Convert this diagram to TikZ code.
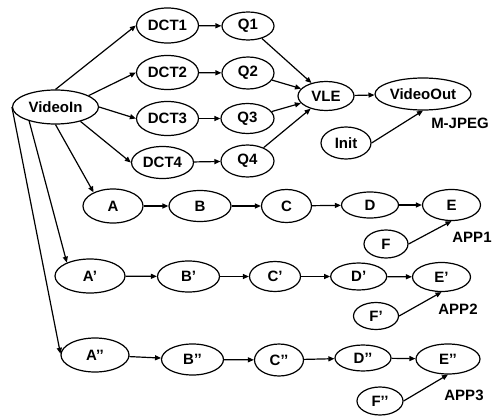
\documentclass[tikz,border=0pt]{standalone}
\usepackage{fontspec}
\setmainfont{Liberation Sans}
\usetikzlibrary{arrows.meta,shapes.geometric}
\tikzset{
  el/.style 2 args={ellipse, draw, line width=1.2pt, inner sep=0pt,
    minimum width=#1pt, minimum height=#2pt,
    font=\fontsize{15}{18}\selectfont\bfseries},
  lbl/.style={inner sep=0pt, font=\fontsize{15}{18}\selectfont\bfseries},
  arr/.style={line width=1.2pt, -{Triangle[length=6pt,width=5pt]}, shorten >=0pt}
}
\begin{document}
\begin{tikzpicture}[x=1pt,y=-1pt]
\useasboundingbox (0,0) rectangle (498,420);
% top part
\node[el={86}{34}] (vin) at (55.5,107) {VideoIn};
\node[el={62}{35}] (dct1) at (167.5,25.5) {DCT1};
\node[el={62}{34}] (dct2) at (167.5,72.5) {DCT2};
\node[el={62}{34}] (dct3) at (167.5,118.5) {DCT3};
\node[el={62}{32}] (dct4) at (162.5,162.5) {DCT4};
\node[el={52}{28}] (q1) at (248,26) {Q1};
\node[el={52}{32}] (q2) at (248,73) {Q2};
\node[el={53}{30}] (q3) at (247.5,118.5) {Q3};
\node[el={53}{32}] (q4) at (247.5,161) {Q4};
\node[el={56}{29}] (vle) at (326,96) {VLE};
\node[el={96}{32}] (vout) at (423,94) {VideoOut};
\node[el={50}{32}] (init) at (346,143) {Init};
\node[lbl] (mjpeg) at (460,123) {M-JPEG};
% APP1
\node[el={60}{34}] (a1) at (113,206) {A};
\node[el={62}{31}] (b1) at (200,206) {B};
\node[el={50}{33}] (c1) at (286.5,206) {C};
\node[el={57}{26}] (d1) at (370,205) {D};
\node[el={58}{31}] (e1) at (451.5,205) {E};
\node[el={44}{28}] (f1) at (386,244) {F};
\node[lbl] (app1) at (472,237) {APP1};
% APP2
\node[el={70}{34}] (a2) at (90,276) {A’};
\node[el={62}{31}] (b2) at (188.5,276.5) {B’};
\node[el={51}{30}] (c2) at (275,276.5) {C’};
\node[el={56}{27}] (d2) at (358.7,276.5) {D’};
\node[el={58}{29}] (e2) at (441.5,277) {E’};
\node[el={45}{27}] (f2) at (376,316) {F’};
\node[lbl] (app2) at (458,309) {APP2};
% APP3
\node[el={68}{34}] (a3) at (95,355) {A’’};
\node[el={62}{31}] (b3) at (192.5,359.5) {B’’};
\node[el={49}{32}] (c3) at (279,360) {C’’};
\node[el={56}{26}] (d3) at (363,358) {D’’};
\node[el={64}{30}] (e3) at (448,359) {E’’};
\node[el={46}{28}] (f3) at (380,401) {F’’};
\node[lbl] (app3) at (464,395) {APP3};
% edges
\draw[arr] (vin.north) -- (dct1.west);
\draw[arr] (vin.19) -- (dct2.west);
\draw[arr] (vin.east) -- (dct3.west);
\draw[arr] (vin.-30) -- (dct4.west);
\draw[arr] (vin.south) -- (a1.145);
\draw[arr] (vin.208) -- (a2.150);
\draw[arr] (vin.west) -- (a3.178);
\foreach \i in {1,2,3,4}{
  \draw[arr] (dct\i) -- (q\i);
  \draw[arr] (q\i) -- (vle);
}
\draw[arr] (vle) -- (vout);
\draw[arr] (init.east) -- (vout.south);
\foreach \r in {1,2,3}{
  \draw[arr] (a\r) -- (b\r);
  \draw[arr] (b\r) -- (c\r);
  \draw[arr] (c\r) -- (d\r);
  \draw[arr] (d\r) -- (e\r);
  \draw[arr] (f\r.east) -- (e\r.south);
}
\end{tikzpicture}
\end{document}
